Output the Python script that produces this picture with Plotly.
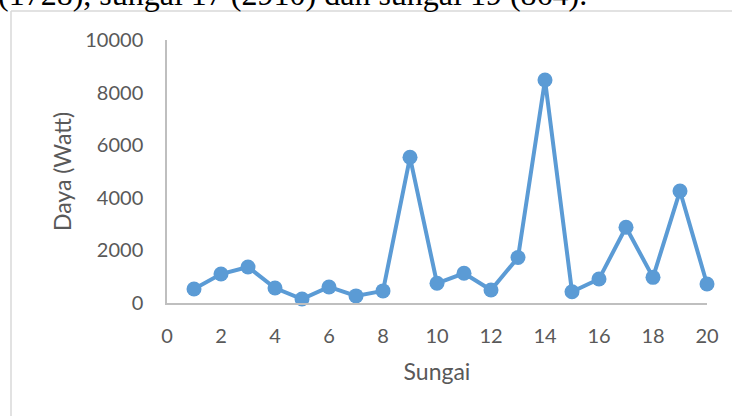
import plotly.graph_objects as go

sungai = list(range(1, 21))
daya = [530, 1100, 1370, 570, 150, 610, 270, 460, 5540, 750,
        1130, 494, 1728, 8480, 430, 910, 2880, 975, 4260, 720]

x_ticks = list(range(0, 21, 2))
y_ticks = list(range(0, 10001, 2000))
y_tick_text = [str(v) for v in y_ticks]

FONT = "Lato"
GREY = "#595959"
AX = "#BFBFBF"
BLUE = "#5B9BD5"

fig = go.Figure()
fig.add_trace(go.Scatter(
    x=sungai, y=daya, mode="lines+markers",
    line=dict(color=BLUE, width=4),
    marker=dict(color=BLUE, size=15),
    cliponaxis=False, showlegend=False,
))

W, H = 732, 416
L, R, T, B = 167, 25, 40, 113
pw, ph = W - L - R, H - T - B

def px(xp):
    return (xp - L) / pw

def py(yp):
    return (H - B - yp) / ph

fig.update_layout(
    width=W, height=H,
    margin=dict(l=L, r=R, t=T, b=B, autoexpand=False),
    paper_bgcolor="white", plot_bgcolor="white",
    font=dict(family=FONT, color=GREY, size=20),
    xaxis=dict(
        range=[0, 20], tickvals=x_ticks, showgrid=False, zeroline=False,
        showline=True, linecolor=AX, linewidth=1.5, ticks="",
        ticklabelstandoff=14, tickfont=dict(size=20, color=GREY),
        title=dict(text="Sungai", standoff=18, font=dict(size=23, color=GREY)),
    ),
    yaxis=dict(
        range=[0, 10000], tickvals=y_ticks, ticktext=y_tick_text,
        showgrid=False, zeroline=False,
        showline=True, linecolor=AX, linewidth=1.5, ticks="",
        ticklabelstandoff=18, tickfont=dict(size=20, color=GREY),
        title=dict(text="Daya (Watt)", standoff=7, font=dict(size=23, color=GREY)),
    ),
    shapes=[
        dict(type="line", xref="paper", yref="paper",
             x0=px(11), x1=px(11), y0=py(11), y1=py(430),
             line=dict(color="#D9D9D9", width=1.5)),
        dict(type="line", xref="paper", yref="paper",
             x0=px(11), x1=px(750), y0=py(11), y1=py(11),
             line=dict(color="#D9D9D9", width=1.5)),
    ],
    annotations=[
        dict(text="(1728), sungai 17 (2910) dan sungai 19 (864).",
             xref="paper", yref="paper", x=px(-4), y=py(14),
             xanchor="left", yanchor="bottom", showarrow=False,
             font=dict(family="Liberation Serif", size=32, color="black")),
    ],
)

fig.write_html("out.html",
               config={"displayModeBar": False},
               post_script="document.body.style.margin='0px';document.body.style.overflow='hidden';")
